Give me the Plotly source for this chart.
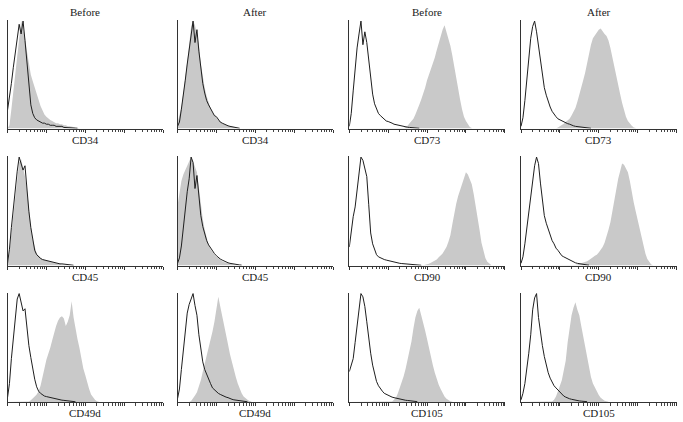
import plotly.graph_objects as go

# Log10 fluorescence channel (bin centres, in decades 0..4)
DECADES = [round(0.05 * i, 2) for i in range(81)]

COLUMN_TITLES = ["Before", "After", "Before", "After"]
PANEL_LABELS = [
    ["CD34", "CD34", "CD73", "CD73"],
    ["CD45", "CD45", "CD90", "CD90"],
    ["CD49d", "CD49d", "CD105", "CD105"],
]

# ---- Row 1 ----
cd34_before_iso = [17, 28, 42, 57, 72, 86, 97, 88, 100, 82, 62, 40, 22, 14, 10, 8, 7, 6, 5, 5,
                   4, 4, 3, 3, 3, 2, 2, 2, 2, 1, 1, 1, 1, 1, 0.5, 0.3, 0.2]
cd34_before_stain = [0, 3, 18, 35, 55, 72, 88, 100, 93, 85, 72, 60, 50, 44, 38, 32, 27, 21, 17, 13,
                     11, 9, 8, 7, 6, 5, 5, 4, 4, 3, 3, 2, 2, 1.5, 1, 0.7, 0.4, 0.2]
cd34_after_iso = [2, 6, 18, 30, 45, 60, 73, 88, 100, 80, 92, 72, 55, 42, 33, 26, 22, 19, 15, 12,
                  11, 8, 6, 5, 4, 3, 2.5, 2, 1.5, 1, 0.6, 0.4, 0.2]
cd34_after_stain = [5, 12, 20, 33, 46, 62, 78, 95, 100, 96, 88, 78, 60, 47, 38, 30, 24, 19, 15, 12,
                    10, 8, 6, 5, 4, 3, 2.5, 2, 1.5, 1, 0.6, 0.4, 0.2]
cd73_before_iso = [2, 14, 35, 57, 75, 88, 100, 78, 90, 80, 62, 46, 32, 23, 18, 14, 12, 10, 8, 7,
                   6.5, 6, 5, 4, 3.5, 3, 2.5, 2, 2, 1.5, 1.2, 1, 0.8, 0.6, 0.4, 0.3, 0.2]
cd73_before_stain = [0, 0, 0, 0, 0, 0, 0, 0, 0, 0, 0, 0, 0, 0, 0, 0, 0, 0, 0, 0,
                     0, 0, 0, 0, 0, 0, 0, 0, 0.5, 1.5, 2.5, 5, 7, 9, 13, 17, 22, 27, 32, 38,
                     45, 50, 54, 60, 66, 73, 80, 86, 92, 96, 90, 85, 77, 68, 57, 46, 35, 27, 18, 11,
                     7, 3.5, 1.5, 0.5]
cd73_after_iso = [2, 10, 26, 45, 68, 84, 95, 100, 90, 76, 64, 48, 38, 31, 25, 20, 16, 13, 11, 9,
                  8, 7, 6, 5, 4.5, 4, 3, 2.5, 2, 1.8, 1.5, 1.2, 1, 0.7, 0.5, 0.3, 0.2]
cd73_after_stain = [0, 0, 0, 0, 0, 0, 0, 0, 0, 0, 0, 0, 0, 0, 0, 0, 0, 0, 0, 1,
                    2, 3, 4.5, 6, 7.5, 9, 12, 15, 19, 25, 31, 38, 45, 52, 62, 70, 78, 84, 87, 90,
                    92, 93, 90, 88, 86, 82, 75, 67, 58, 50, 42, 32, 24, 16, 11, 7, 4.5, 2.5, 1, 0.4]

# ---- Row 2 ----
cd45_before_iso = [2, 15, 35, 54, 72, 87, 100, 94, 88, 92, 66, 50, 35, 22, 14, 10, 8, 6.5, 5.5, 5,
                   4.5, 4, 3.5, 3, 2.5, 2, 2, 1.5, 1.5, 1.2, 1, 0.8, 0.5, 0.3, 0.2]
cd45_before_stain = [0, 12, 30, 45, 62, 80, 95, 98, 90, 82, 70, 52, 36, 24, 16, 11, 9, 7, 6, 5,
                     4.5, 4, 3.5, 3, 2.5, 2, 1.5, 1.2, 1, 0.8, 0.5, 0.3, 0.2]
cd45_after_iso = [2, 7, 18, 35, 53, 68, 80, 100, 95, 71, 83, 62, 46, 36, 29, 23, 19, 16, 13, 11,
                  9, 7, 6, 5, 4, 3, 2.5, 2, 1.6, 1.3, 1, 0.7, 0.5, 0.3]
cd45_after_stain = [55, 68, 78, 84, 88, 93, 97, 100, 96, 91, 86, 72, 56, 43, 33, 25, 19, 15, 12, 10,
                    8, 6.5, 5, 4, 3, 2.5, 2, 1.5, 1, 0.7, 0.5, 0.3]
cd90_before_iso = [17, 34, 45, 54, 68, 86, 100, 97, 90, 82, 56, 30, 20, 14, 10, 8, 7, 6, 5.5, 5,
                   4.5, 4, 3.5, 3, 2.5, 2, 2, 1.8, 1.6, 1.5, 1.3, 1.2, 1, 0.9, 0.7, 0.5, 0.3, 0.2]
cd90_before_stain = [0, 0, 0, 0, 0, 0, 0, 0, 0, 0, 0, 0, 0, 0, 0, 0, 0, 0, 0, 0,
                     0, 0, 0, 0, 0, 0, 0, 0, 0, 0, 0, 0, 0, 0, 0, 0, 0, 0, 0.3, 0.7,
                     1, 1.5, 2.5, 3.5, 4.5, 5.5, 7.5, 9, 11, 14, 17, 22, 28, 38, 48, 57, 64, 70, 76, 80,
                     86, 84, 80, 75, 66, 56, 44, 33, 21, 13, 7, 3.5, 1.5, 0.5]
cd90_after_iso = [2, 8, 20, 34, 50, 63, 78, 92, 100, 94, 76, 58, 46, 39, 34, 27, 23, 20, 16, 14,
                  11, 9, 8, 7, 6, 5, 4, 3, 2.5, 2, 1.6, 1.3, 1, 0.7, 0.5, 0.3]
cd90_after_stain = [0, 0, 0, 0, 0, 0, 0, 0, 0, 0, 0, 0, 0, 0, 0, 0, 0, 0, 0, 0,
                    0, 0, 0, 0, 0, 0, 0, 0, 0.5, 1, 1.5, 2, 3, 3.5, 4, 5, 6, 7.5, 9, 10,
                    12, 14, 17, 21, 26, 33, 40, 50, 62, 72, 80, 87, 94, 93, 90, 86, 78, 66, 58, 50,
                    42, 32, 24, 16, 11, 6, 3, 1, 0.3]

# ---- Row 3 ----
cd49d_before_iso = [4, 17, 40, 57, 80, 95, 100, 92, 84, 86, 66, 52, 41, 30, 21, 14, 10, 8, 6.5, 5.5,
                    5, 4.5, 4, 3.5, 3, 2.5, 2.2, 2, 1.7, 1.5, 1.2, 1, 0.7, 0.5, 0.3, 0.2]
cd49d_before_stain = [0, 0, 0, 0, 0, 0, 0, 0, 0, 0, 0, 0.5, 1.5, 3, 5, 7, 10, 15, 22, 31,
                      39, 44, 50, 57, 64, 70, 75, 78, 79, 77, 70, 74, 80, 93, 78, 67, 58, 50, 40, 31,
                      25, 18, 12, 7, 4, 2, 0.8, 0.3]
cd49d_after_iso = [3, 12, 30, 49, 67, 82, 90, 95, 100, 89, 80, 62, 47, 37, 30, 25, 21, 17, 13, 11,
                   9, 8, 7, 6, 5, 4.5, 4, 3, 2.5, 2, 1.7, 1.4, 1.1, 0.8, 0.5, 0.3, 0.2]
cd49d_after_stain = [0, 0, 0, 0, 0, 0, 0, 1, 3, 6, 9, 14, 20, 28, 35, 43, 50, 57, 65, 74,
                     84, 97, 88, 80, 72, 62, 53, 44, 36, 30, 23, 17, 12, 8, 5, 3, 2, 1, 0.4]
cd105_before_iso = [28, 33, 40, 55, 72, 88, 100, 97, 88, 74, 58, 45, 34, 25, 19, 15, 12, 10, 8, 7,
                    6, 5, 4.5, 4, 3.5, 3, 2.5, 2, 1.8, 1.6, 1.4, 1.2, 1, 0.8, 0.5, 0.3]
cd105_before_stain = [0, 0, 0, 0, 0, 0, 0, 0, 0, 0, 0, 0, 0, 0, 0, 0, 0, 0, 0, 0,
                      0, 0, 0.5, 2, 4, 8, 13, 18, 24, 31, 39, 47, 56, 68, 78, 84, 87, 80, 74, 66,
                      58, 49, 42, 34, 27, 21, 16, 12, 8, 5, 3, 1.5, 0.7, 0.2]
cd105_after_iso = [2, 8, 17, 30, 45, 62, 85, 96, 100, 78, 64, 52, 42, 34, 27, 22, 18, 15, 13, 11,
                   9, 7, 5.5, 4.5, 3.5, 3, 2.5, 2, 1.6, 1.3, 1, 0.8, 0.6, 0.5, 0.3]
cd105_after_stain = [0, 0, 0, 0, 0, 0, 0, 0, 0, 0, 0, 0, 0, 0, 0, 0, 0.5, 2, 5, 10,
                     15, 20, 29, 38, 55, 70, 80, 87, 92, 85, 80, 70, 60, 50, 40, 31, 23, 17, 13, 9,
                     6.5, 4, 2.5, 1.2, 0.6, 0.2]

PANELS = [
    [(cd34_before_iso, cd34_before_stain), (cd34_after_iso, cd34_after_stain),
     (cd73_before_iso, cd73_before_stain), (cd73_after_iso, cd73_after_stain)],
    [(cd45_before_iso, cd45_before_stain), (cd45_after_iso, cd45_after_stain),
     (cd90_before_iso, cd90_before_stain), (cd90_after_iso, cd90_after_stain)],
    [(cd49d_before_iso, cd49d_before_stain), (cd49d_after_iso, cd49d_after_stain),
     (cd105_before_iso, cd105_before_stain), (cd105_after_iso, cd105_after_stain)],
]

# ---- layout geometry (pixels) ----
W, H = 683, 422
COL_LEFT = [7.5, 177.5, 349.3, 521.0]
PANEL_W = 155.5
ROW_TOP = [20.0, 156.0, 292.5]
ROW_BOTTOM = [128.5, 265.5, 402.0]
TITLE_Y = 12
LABEL_Y = [140, 277, 413]

FONT = "Liberation Serif, Times New Roman, DejaVu Serif, serif"
GRAY = "#c9c9c9"
LINE = "#1e1e1e"

major = [1, 10, 100, 1000, 10000]
minor = [k * 10 ** e for e in range(4) for k in range(2, 10)]

fig = go.Figure()
layout = dict(width=W, height=H, margin=dict(l=0, r=0, t=0, b=0),
              paper_bgcolor="white", plot_bgcolor="white", showlegend=False)
annotations = []

for r in range(3):
    for c in range(4):
        k = r * 4 + c + 1
        xa, ya = f"x{k}" if k > 1 else "x", f"y{k}" if k > 1 else "y"
        iso, stain = PANELS[r][c]
        xs_s = [10 ** d for d in DECADES[:len(stain)]]
        xs_i = [10 ** d for d in DECADES[:len(iso)]]
        fig.add_trace(go.Scatter(x=xs_s, y=stain, mode="lines", fill="tozeroy",
                                 fillcolor=GRAY, line=dict(color=GRAY, width=0),
                                 xaxis=xa, yaxis=ya, hoverinfo="skip"))
        fig.add_trace(go.Scatter(x=xs_i, y=iso, mode="lines",
                                 line=dict(color=LINE, width=1),
                                 xaxis=xa, yaxis=ya, hoverinfo="skip"))
        L = COL_LEFT[c]
        layout[f"xaxis{k}"] = dict(
            domain=[L / W, (L + PANEL_W) / W], type="log", range=[0, 4],
            anchor=ya, showline=True, linecolor="#333", linewidth=1,
            ticks="outside", tickvals=major, ticklen=3, tickwidth=1, tickcolor="#333",
            minor=dict(tickmode="array", tickvals=minor, ticks="outside", ticklen=2.5,
                       tickwidth=1, tickcolor="#444"),
            showticklabels=False, showgrid=False, zeroline=False, fixedrange=True)
        layout[f"yaxis{k}"] = dict(
            domain=[1 - ROW_BOTTOM[r] / H, 1 - ROW_TOP[r] / H], range=[0, 101],
            anchor=xa, showline=True, linecolor="#333", linewidth=1,
            ticks="", showticklabels=False, showgrid=False, zeroline=False, fixedrange=True)
        annotations.append(dict(text=PANEL_LABELS[r][c], xref="paper", yref="paper",
                                x=(L + PANEL_W / 2) / W, y=1 - LABEL_Y[r] / H,
                                xanchor="center", yanchor="middle", showarrow=False,
                                font=dict(family=FONT, size=11, color="#1a1a1a")))
for c in range(4):
    L = COL_LEFT[c]
    annotations.append(dict(text=COLUMN_TITLES[c], xref="paper", yref="paper",
                            x=(L + PANEL_W / 2) / W, y=1 - TITLE_Y / H,
                            xanchor="center", yanchor="middle", showarrow=False,
                            font=dict(family=FONT, size=11, color="#1a1a1a")))

layout["annotations"] = annotations
fig.update_layout(**layout)
fig.write_html("out.html", config={"displayModeBar": False},
               post_script="document.body.style.margin='0';document.body.style.overflow='hidden';")
